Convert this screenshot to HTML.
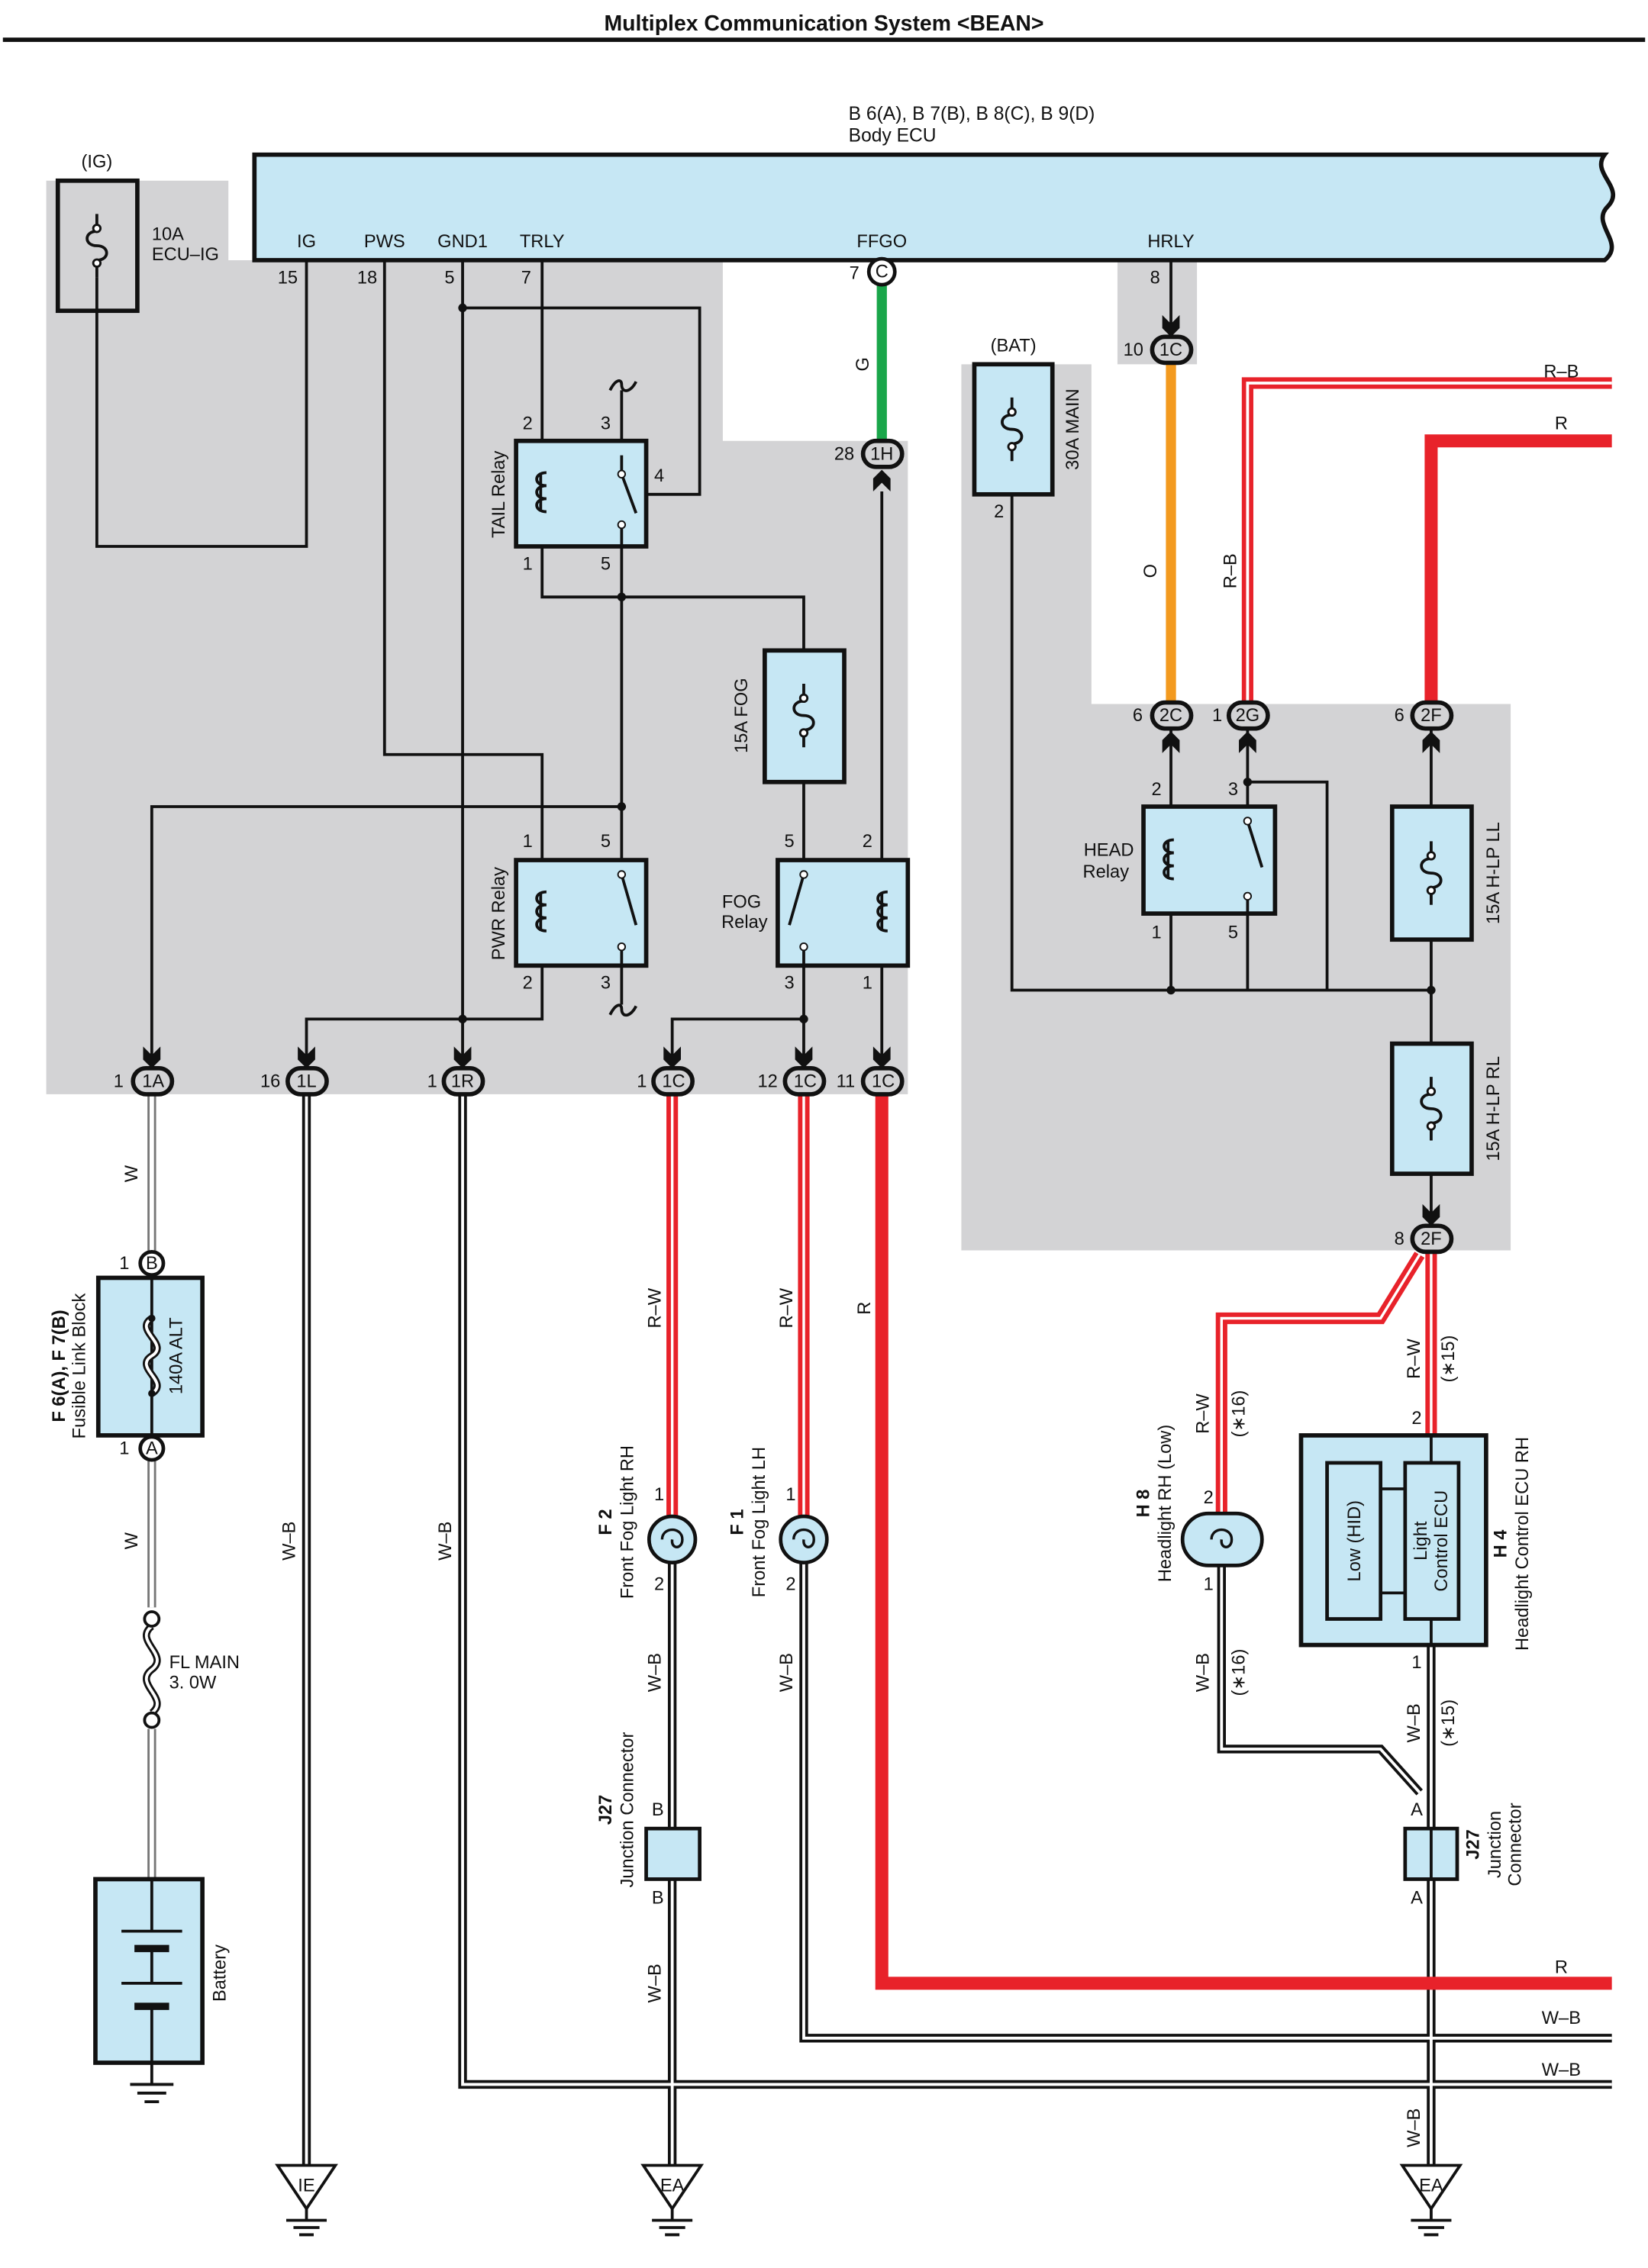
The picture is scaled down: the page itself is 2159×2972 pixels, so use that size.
<!DOCTYPE html>
<html><head><meta charset="utf-8"><style>
html,body{margin:0;padding:0;background:#fff}
svg{display:block}
text{font-family:"Liberation Sans",Arial,sans-serif;font-size:12.5px;fill:#111}
.t{text-anchor:middle}
.b{font-weight:bold}
</style></head><body>
<svg width="2159" height="2972" viewBox="0 0 1140 1569" preserveAspectRatio="none" xmlns="http://www.w3.org/2000/svg">
<defs>
<g id="fuse"><path d="M0,-22 V-10 C-9,-10 -9,0 0,0 C9,0 9,10 0,10 V22" fill="none" stroke="#111" stroke-width="2"/><circle cx="0" cy="-12" r="2.5" fill="#fff" stroke="#111" stroke-width="1.5"/><circle cx="0" cy="12" r="2.5" fill="#fff" stroke="#111" stroke-width="1.5"/></g>
<g id="coil"><path d="M0,-14 C-9,-14 -9,-5 0,-5 M0,-5 C-9,-5 -9,4 0,4 M0,4 C-9,4 -9,13 0,13 M-4,-14 V13" fill="none" stroke="#111" stroke-width="2"/></g>
<g id="arrD"><path d="M-6,-12 L0,-6 L6,-12 L6,-3 L0,3 L-6,-3 Z" fill="#111"/></g>
<g id="arrU"><path d="M-6,12 L0,6 L6,12 L6,3 L0,-3 L-6,3 Z" fill="#111"/></g>
<g id="gnd"><path d="M-20,0 H20 L0,30 Z" fill="#fff" stroke="#111" stroke-width="2"/><path d="M0,30 V38 M-14,38 H14 M-9,43 H9 M-5,48 H5" stroke="#111" stroke-width="2"/></g>
</defs>
<text x="570" y="21" class="t b" style="font-size:15px">Multiplex Communication System &lt;BEAN&gt;</text>
<rect x="2" y="26" width="1136" height="3" fill="#111"/>

<path d="M32,125 H158 V180 H500 V305 H628 V757 H32 Z" fill="#d3d3d5"/>
<rect x="773" y="180" width="55" height="72" fill="#d3d3d5"/>
<path d="M665,252 H755 V487 H1045 V865 H665 Z" fill="#d3d3d5"/>

<path d="M176,107 H1110 C1100,120 1125,130 1112,143 C1100,155 1125,168 1110,180 H176 Z" fill="#c6e7f4" stroke="#111" stroke-width="3"/>
<text x="587" y="83" style="font-size:13px">B 6(A), B 7(B), B 8(C), B 9(D)</text>
<text x="587" y="98" style="font-size:13px">Body ECU</text>
<g style="font-size:13px" class="t">
<text x="212" y="171">IG</text><text x="266" y="171">PWS</text><text x="320" y="171">GND1</text><text x="375" y="171">TRLY</text><text x="610" y="171">FFGO</text><text x="810" y="171">HRLY</text>
</g>
<text x="199" y="196" class="t">15</text><text x="254" y="196" class="t">18</text><text x="311" y="196" class="t">5</text><text x="364" y="196" class="t">7</text>

<rect x="40" y="125" width="55" height="90" fill="#d3d3d5" stroke="#111" stroke-width="3"/>
<use href="#fuse" x="67" y="170"/>
<text x="67" y="116" class="t">(IG)</text>
<text x="105" y="166">10A</text><text x="105" y="180">ECU–IG</text>

<g fill="none" stroke="#111" stroke-width="2">
<path d="M67,192 V378 H212 V180"/>
<path d="M266,180 V522 H375 V595"/>
<path d="M320,180 V740"/>
<path d="M320,213 H484 V342 H447"/>
<path d="M375,180 V305"/>
<path d="M430,305 V270"/>
<path d="M430,378 V595"/>
<path d="M375,378 V413 H430"/>
<path d="M430,413 H556 V450"/>
<path d="M430,558 H105 V740"/>
<path d="M375,668 V705 H212 V740"/>
<path d="M430,668 V695"/>
<path d="M556,541 V595"/>
<path d="M556,668 V740"/>
<path d="M556,705 H465 V740"/>
<path d="M610,340 V595"/>
<path d="M610,668 V740"/>
<path d="M810,180 V235"/>
<path d="M700,342 V685 H990"/>
<path d="M810,632 V685 M863,632 V685"/>
<path d="M863,505 V558 M863,541 H918 V685"/>
<path d="M810,505 V558"/>
<path d="M990,505 V558 M990,650 V722 M990,812 V848"/>
</g>
<path d="M422,270 C426,262 430,262 430,266 C430,272 436,272 440,264" fill="none" stroke="#111" stroke-width="2"/>
<path d="M422,702 C426,694 430,694 430,698 C430,704 436,704 440,696" fill="none" stroke="#111" stroke-width="2"/>
<g fill="#111"><circle cx="320" cy="213" r="3"/><circle cx="430" cy="413" r="3"/><circle cx="430" cy="558" r="3"/><circle cx="320" cy="705" r="3"/><circle cx="556" cy="705" r="3"/><circle cx="810" cy="685" r="3"/><circle cx="990" cy="685" r="3"/><circle cx="863" cy="541" r="3"/></g>

<rect x="357" y="305" width="90" height="73" fill="#c6e7f4" stroke="#111" stroke-width="3"/>
<use href="#coil" x="378" y="341"/>
<path d="M430,315 V328 L440,355 M430,365 V378" fill="none" stroke="#111" stroke-width="2"/><circle cx="430" cy="328" r="2.5" fill="#fff" stroke="#111"/><circle cx="430" cy="363" r="2.5" fill="#fff" stroke="#111"/>
<text x="365" y="297" class="t">2</text><text x="419" y="297" class="t">3</text><text x="456" y="333" class="t">4</text><text x="365" y="394" class="t">1</text><text x="419" y="394" class="t">5</text>
<text transform="translate(349,342) rotate(-90)" class="t">TAIL Relay</text>
<rect x="357" y="595" width="90" height="73" fill="#c6e7f4" stroke="#111" stroke-width="3"/>
<use href="#coil" x="378" y="631"/>
<path d="M430,605 L440,640 M430,655 V668" fill="none" stroke="#111" stroke-width="2"/><circle cx="430" cy="605" r="2.5" fill="#fff" stroke="#111"/><circle cx="430" cy="655" r="2.5" fill="#fff" stroke="#111"/>
<text x="365" y="586" class="t">1</text><text x="419" y="586" class="t">5</text><text x="365" y="684" class="t">2</text><text x="419" y="684" class="t">3</text>
<text transform="translate(349,632) rotate(-90)" class="t">PWR Relay</text>
<rect x="529" y="450" width="55" height="91" fill="#c6e7f4" stroke="#111" stroke-width="3"/>
<use href="#fuse" x="556" y="495"/>
<text transform="translate(517,495) rotate(-90)" class="t">15A FOG</text>
<rect x="538" y="595" width="90" height="73" fill="#c6e7f4" stroke="#111" stroke-width="3"/>
<use href="#coil" x="614" y="631"/>
<path d="M556,605 L546,640 M556,655 V668" fill="none" stroke="#111" stroke-width="2"/><circle cx="556" cy="605" r="2.5" fill="#fff" stroke="#111"/><circle cx="556" cy="655" r="2.5" fill="#fff" stroke="#111"/>
<text x="546" y="586" class="t">5</text><text x="600" y="586" class="t">2</text><text x="546" y="684" class="t">3</text><text x="600" y="684" class="t">1</text>
<text x="513" y="628" class="t">FOG</text><text x="515" y="642" class="t">Relay</text>

<path d="M610,196 V306" stroke="#1aa64a" stroke-width="7"/>
<text transform="translate(601,252) rotate(-90)" class="t">G</text>
<text x="591" y="193" class="t">7</text><text x="584" y="318" class="t">28</text>

<rect x="674" y="252" width="54" height="90" fill="#c6e7f4" stroke="#111" stroke-width="3"/>
<use href="#fuse" x="700" y="297"/>
<text x="701" y="243" class="t">(BAT)</text>
<text transform="translate(746,297) rotate(-90)" class="t">30A MAIN</text>
<text x="691" y="358" class="t">2</text>

<path d="M810,250 V487" stroke="#f39a1f" stroke-width="7"/>
<text transform="translate(800,395) rotate(-90)" class="t">O</text>
<text x="799" y="196" class="t">8</text><text x="784" y="246" class="t">10</text>
<path d="M863,487 V265 H1115" fill="none" stroke="#e8222a" stroke-width="8"/>
<path d="M863,487 V265 H1115" fill="none" stroke="#fff" stroke-width="2"/>
<text transform="translate(855,395) rotate(-90)" class="t">R–B</text>
<text x="1080" y="261" class="t">R–B</text>
<path d="M990,487 V305 H1115" fill="none" stroke="#e8222a" stroke-width="9"/>
<text x="1080" y="297" class="t">R</text>

<rect x="791" y="558" width="91" height="74" fill="#c6e7f4" stroke="#111" stroke-width="3"/>
<use href="#coil" x="812" y="595"/>
<path d="M863,568 L873,600 M863,620 V632" fill="none" stroke="#111" stroke-width="2"/><circle cx="863" cy="568" r="2.5" fill="#fff" stroke="#111"/><circle cx="863" cy="620" r="2.5" fill="#fff" stroke="#111"/>
<text x="800" y="550" class="t">2</text><text x="853" y="550" class="t">3</text><text x="800" y="649" class="t">1</text><text x="853" y="649" class="t">5</text>
<text x="767" y="592" class="t">HEAD</text><text x="765" y="607" class="t">Relay</text>
<text x="787" y="499" class="t">6</text><text x="842" y="499" class="t">1</text><text x="968" y="499" class="t">6</text>
<rect x="963" y="558" width="55" height="92" fill="#c6e7f4" stroke="#111" stroke-width="3"/>
<use href="#fuse" x="990" y="604"/>
<text transform="translate(1037,604) rotate(-90)" class="t">15A H-LP LL</text>
<rect x="963" y="722" width="55" height="90" fill="#c6e7f4" stroke="#111" stroke-width="3"/>
<use href="#fuse" x="990" y="767"/>
<text transform="translate(1037,767) rotate(-90)" class="t">15A H-LP RL</text>
<text x="968" y="861" class="t">8</text>

<g fill="none">
<path d="M105,757 V866 M105,1010 V1112 M105,1196 V1300" stroke="#777" stroke-width="6"/>
<path d="M105,757 V866 M105,1010 V1112 M105,1196 V1300" stroke="#fff" stroke-width="3"/>
<path d="M212,757 V1498 M320,757 V1442 H1115 M465,1081 V1265 M465,1300 V1498 M556,1081 V1410 H1115 M845,1083 V1210 H955 L982,1240 M990,1138 V1265 M990,1300 V1498" stroke="#111" stroke-width="6"/>
<path d="M212,757 V1498 M320,757 V1442 H1115 M465,1081 V1265 M465,1300 V1498 M556,1081 V1410 H1115 M845,1083 V1210 H955 L982,1240 M990,1138 V1265 M990,1300 V1498" stroke="#fff" stroke-width="2"/>
<path d="M465,757 V1050 M556,757 V1050 M990,866 V993 M982,868 L955,912 H845 V1047" stroke="#e8222a" stroke-width="8"/>
<path d="M465,757 V1050 M556,757 V1050 M990,866 V993 M982,868 L955,912 H845 V1047" stroke="#fff" stroke-width="1.8"/>
<path d="M610,757 V1372 H1115" stroke="#e8222a" stroke-width="9"/>
</g>
<g stroke="#111" stroke-width="3" fill="#d3d3d5">
<rect x="92" y="739" width="27" height="18" rx="9"/><rect x="199" y="739" width="27" height="18" rx="9"/><rect x="307" y="739" width="27" height="18" rx="9"/><rect x="452" y="739" width="27" height="18" rx="9"/><rect x="543" y="739" width="27" height="18" rx="9"/><rect x="597" y="739" width="27" height="18" rx="9"/>
<rect x="597" y="305" width="27" height="18" rx="9"/><rect x="797" y="233" width="27" height="18" rx="9"/><rect x="797" y="486" width="27" height="18" rx="9"/><rect x="850" y="486" width="27" height="18" rx="9"/><rect x="977" y="486" width="27" height="18" rx="9"/><rect x="977" y="848" width="27" height="18" rx="9"/>
</g>
<g fill="#fff" stroke="#111" stroke-width="2.5"><circle cx="610" cy="188" r="9"/><circle cx="105" cy="874" r="8"/><circle cx="105" cy="1002" r="8"/></g>
<g class="t" style="font-size:12px">
<text x="106" y="752">1A</text><text x="212" y="752">1L</text><text x="320" y="752">1R</text><text x="466" y="752">1C</text><text x="557" y="752">1C</text><text x="611" y="752">1C</text>
<text x="610" y="318">1H</text><text x="810" y="246">1C</text><text x="810" y="499">2C</text><text x="863" y="499">2G</text><text x="990" y="499">2F</text><text x="990" y="861">2F</text>
<text x="610" y="192">C</text><text x="105" y="878">B</text><text x="105" y="1006">A</text>
</g>
<text x="82" y="752" class="t">1</text><text x="187" y="752" class="t">16</text><text x="299" y="752" class="t">1</text><text x="444" y="752" class="t">1</text><text x="531" y="752" class="t">12</text><text x="585" y="752" class="t">11</text>
<text x="86" y="878" class="t">1</text><text x="86" y="1006" class="t">1</text>
<g>
<use href="#arrD" x="105" y="736"/><use href="#arrD" x="212" y="736"/><use href="#arrD" x="320" y="736"/><use href="#arrD" x="465" y="736"/><use href="#arrD" x="556" y="736"/><use href="#arrD" x="610" y="736"/>
<use href="#arrD" x="810" y="230"/><use href="#arrD" x="990" y="845"/>
<use href="#arrU" x="610" y="328"/><use href="#arrU" x="810" y="509"/><use href="#arrU" x="863" y="509"/><use href="#arrU" x="990" y="509"/>
</g>

<rect x="68" y="884" width="72" height="109" fill="#c6e7f4" stroke="#111" stroke-width="3"/>
<path d="M105,884 V993" stroke="#111" stroke-width="2"/>
<path d="M105,912 C92,920 118,930 105,938 C92,946 118,956 105,964" fill="none" stroke="#111" stroke-width="5"/>
<path d="M105,912 C92,920 118,930 105,938 C92,946 118,956 105,964" fill="none" stroke="#fff" stroke-width="2"/>
<circle cx="105" cy="912" r="2.5" fill="#111"/><circle cx="105" cy="964" r="2.5" fill="#111"/>
<text transform="translate(126,938) rotate(-90)" class="t">140A ALT</text>
<text transform="translate(45,945) rotate(-90)" class="t b">F 6(A), F 7(B)</text>
<text transform="translate(59,945) rotate(-90)" class="t">Fusible Link Block</text>
<text transform="translate(95,812) rotate(-90)" class="t">W</text>
<text transform="translate(95,1066) rotate(-90)" class="t">W</text>
<path d="M105,1125 C92,1135 118,1145 105,1155 C92,1165 118,1175 105,1185" fill="none" stroke="#111" stroke-width="5"/>
<path d="M105,1125 C92,1135 118,1145 105,1155 C92,1165 118,1175 105,1185" fill="none" stroke="#fff" stroke-width="2"/>
<circle cx="105" cy="1120" r="5" fill="#fff" stroke="#111" stroke-width="2"/><circle cx="105" cy="1190" r="5" fill="#fff" stroke="#111" stroke-width="2"/>
<text x="117" y="1154">FL MAIN</text><text x="117" y="1168">3. 0W</text>
<rect x="66" y="1300" width="74" height="127" fill="#c6e7f4" stroke="#111" stroke-width="3"/>
<path d="M105,1300 V1336 M84,1336 H126 M105,1348 V1372 M84,1372 H126 M105,1388 V1427" stroke="#111" stroke-width="2" fill="none"/>
<path d="M93,1348 H117 M93,1388 H117" stroke="#111" stroke-width="5"/>
<path d="M105,1427 V1442 M90,1442 H120 M95,1448 H115 M100,1454 H110" stroke="#111" stroke-width="2"/>
<text transform="translate(156,1365) rotate(-90)" class="t">Battery</text>

<g class="t">
<text transform="translate(204,1066) rotate(-90)">W–B</text>
<text transform="translate(312,1066) rotate(-90)">W–B</text>
<text transform="translate(457,905) rotate(-90)">R–W</text>
<text transform="translate(548,905) rotate(-90)">R–W</text>
<text transform="translate(602,905) rotate(-90)">R</text>
<text transform="translate(457,1157) rotate(-90)">W–B</text>
<text transform="translate(548,1157) rotate(-90)">W–B</text>
<text transform="translate(457,1372) rotate(-90)">W–B</text>
<text transform="translate(982,940) rotate(-90)">R–W</text>
<text transform="translate(1006,940) rotate(-90)">(∗15)</text>
<text transform="translate(836,978) rotate(-90)">R–W</text>
<text transform="translate(861,978) rotate(-90)">(∗16)</text>
<text transform="translate(836,1157) rotate(-90)">W–B</text>
<text transform="translate(861,1157) rotate(-90)">(∗16)</text>
<text transform="translate(982,1192) rotate(-90)">W–B</text>
<text transform="translate(1006,1192) rotate(-90)">(∗15)</text>
<text transform="translate(982,1472) rotate(-90)">W–B</text>
<text x="1080" y="1365">R</text><text x="1080" y="1400">W–B</text><text x="1080" y="1436">W–B</text>
</g>

<g fill="#c6e7f4" stroke="#111" stroke-width="2.5"><circle cx="465" cy="1065" r="16"/><circle cx="556" cy="1065" r="16"/></g>
<path d="M458,1065 C458,1056 472,1056 472,1065 C472,1072 464,1072 465,1065" fill="none" stroke="#111" stroke-width="1.8"/>
<path d="M549,1065 C549,1056 563,1056 563,1065 C563,1072 555,1072 556,1065" fill="none" stroke="#111" stroke-width="1.8"/>
<text x="456" y="1038" class="t">1</text><text x="456" y="1100" class="t">2</text><text x="547" y="1038" class="t">1</text><text x="547" y="1100" class="t">2</text>
<text transform="translate(423,1053) rotate(-90)" class="t b">F 2</text>
<text transform="translate(438,1053) rotate(-90)" class="t">Front Fog Light RH</text>
<text transform="translate(514,1053) rotate(-90)" class="t b">F 1</text>
<text transform="translate(529,1053) rotate(-90)" class="t">Front Fog Light LH</text>
<rect x="447" y="1265" width="37" height="35" fill="#c6e7f4" stroke="#111" stroke-width="2.5"/>
<text x="455" y="1256" class="t">B</text><text x="455" y="1317" class="t">B</text>
<text transform="translate(423,1252) rotate(-90)" class="t b">J27</text>
<text transform="translate(438,1252) rotate(-90)" class="t">Junction Connector</text>

<rect x="818" y="1047" width="55" height="36" rx="18" fill="#c6e7f4" stroke="#111" stroke-width="2.5"/>
<path d="M838,1065 C838,1056 852,1056 852,1065 C852,1072 844,1072 845,1065" fill="none" stroke="#111" stroke-width="1.8"/>
<text x="836" y="1040" class="t">2</text><text x="836" y="1100" class="t">1</text>
<text transform="translate(795,1040) rotate(-90)" class="t b">H 8</text>
<text transform="translate(810,1040) rotate(-90)" class="t">Headlight RH (Low)</text>
<rect x="900" y="993" width="128" height="145" fill="#c6e7f4" stroke="#111" stroke-width="3"/>
<rect x="918" y="1012" width="37" height="108" fill="#c6e7f4" stroke="#111" stroke-width="2.5"/>
<rect x="972" y="1012" width="37" height="108" fill="#c6e7f4" stroke="#111" stroke-width="2.5"/>
<path d="M955,1030 H972 M955,1102 H972 M990,993 V1012 M990,1120 V1138" stroke="#111" stroke-width="2"/>
<text transform="translate(941,1066) rotate(-90)" class="t">Low (HID)</text>
<text transform="translate(987,1066) rotate(-90)" class="t">Light</text>
<text transform="translate(1001,1066) rotate(-90)" class="t">Control ECU</text>
<text x="980" y="985" class="t">2</text><text x="980" y="1154" class="t">1</text>
<text transform="translate(1042,1068) rotate(-90)" class="t b">H 4</text>
<text transform="translate(1057,1068) rotate(-90)" class="t">Headlight Control ECU RH</text>
<rect x="972" y="1265" width="36" height="35" fill="#c6e7f4" stroke="#111" stroke-width="2.5"/>
<path d="M990,1265 V1300" stroke="#111" stroke-width="2"/>
<text x="980" y="1256" class="t">A</text><text x="980" y="1317" class="t">A</text>
<text transform="translate(1023,1276) rotate(-90)" class="t b">J27</text>
<text transform="translate(1038,1276) rotate(-90)" class="t">Junction</text>
<text transform="translate(1052,1276) rotate(-90)" class="t">Connector</text>

<use href="#gnd" x="212" y="1498"/><use href="#gnd" x="465" y="1498"/><use href="#gnd" x="990" y="1498"/>
<text x="212" y="1516" class="t">IE</text><text x="465" y="1516" class="t">EA</text><text x="990" y="1516" class="t">EA</text>
</svg>
</body></html>
